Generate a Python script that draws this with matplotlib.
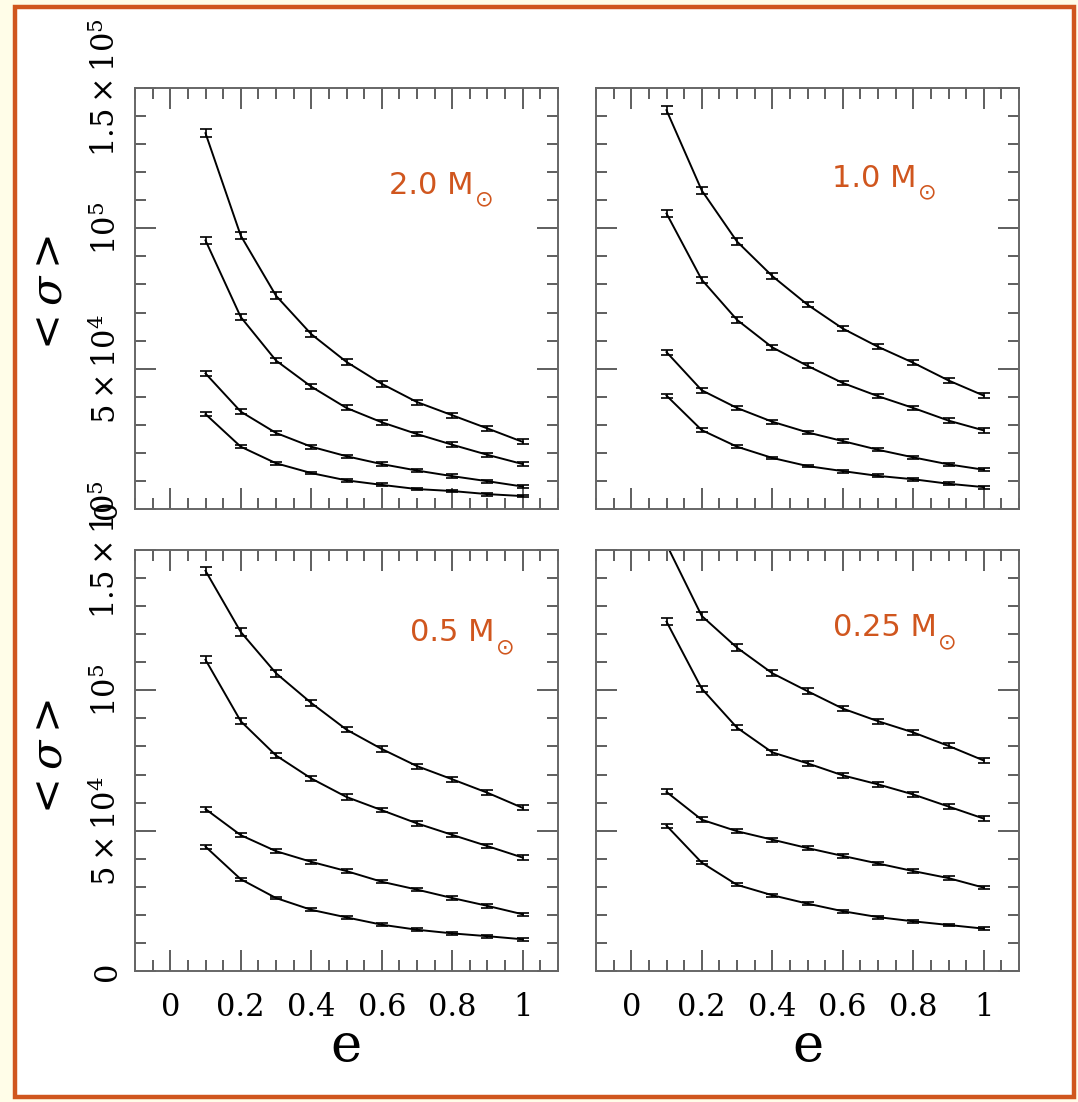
import matplotlib
matplotlib.use("Agg")
import matplotlib.pyplot as plt
from matplotlib.patches import Rectangle
from matplotlib.ticker import MultipleLocator, FixedLocator, FixedFormatter

plt.rcParams['mathtext.fontset'] = 'dejavuserif'

# eccentricity grid, same for every curve
e_vals = [0.1, 0.2, 0.3, 0.4, 0.5, 0.6, 0.7, 0.8, 0.9, 1.0]

# <sigma>, four curves per panel (top curve first)
sig_2p0 = [
    [133900, 97400, 76000, 62300, 52400, 44600, 38100, 33400, 28700, 23900],
    [95700, 68400, 52900, 43600, 36000, 30900, 26700, 22900, 19300, 16000],
    [48300, 34700, 27100, 22200, 18800, 16000, 13700, 11700, 9900, 8000],
    [33800, 22200, 16300, 12800, 10200, 8600, 7100, 6400, 5300, 4600],
]
sig_1p0 = [
    [142100, 113500, 95300, 83000, 72800, 64300, 57800, 52100, 45800, 40400],
    [105300, 81700, 67400, 57600, 51000, 44900, 40200, 36000, 31500, 28000],
    [55900, 42300, 36000, 31100, 27300, 24200, 21100, 18400, 15900, 14000],
    [40400, 28100, 22200, 18200, 15300, 13500, 11800, 10600, 9000, 7800],
]
sig_0p5 = [
    [142600, 120800, 106100, 95500, 86000, 79100, 73000, 68300, 63500, 58100],
    [110900, 89000, 76800, 68600, 62000, 57300, 52600, 48500, 44500, 40400],
    [57700, 48400, 42700, 38900, 35600, 31800, 29000, 26000, 23200, 20200],
    [44300, 32700, 26000, 21800, 19100, 16500, 14700, 13400, 12400, 11300],
]
sig_0p25 = [
    [152000, 126500, 115200, 106100, 99700, 93500, 89000, 85000, 80200, 75000],
    [124500, 100600, 86700, 77900, 74000, 69700, 66500, 62900, 58600, 54300],
    [63800, 53900, 49800, 46800, 43800, 41000, 38300, 35600, 33100, 29700],
    [51800, 38600, 30700, 27000, 24000, 21300, 19200, 17700, 16400, 15100],
]

# error bar half-widths, one list per curve (same for all panels)
err_curves = [
    [1500, 1300, 1200, 1100, 1000, 1000, 900, 900, 900, 900],
    [1300, 1100, 1000, 900, 900, 800, 800, 800, 800, 800],
    [900, 800, 700, 700, 600, 600, 600, 600, 600, 600],
    [700, 600, 500, 500, 500, 500, 500, 500, 500, 500],
]

panel_data = [sig_2p0, sig_1p0, sig_0p5, sig_0p25]
panel_labels = ["2.0 M", "1.0 M", "0.5 M", "0.25 M"]
label_pos = [(0.74, 115400), (0.69, 117900), (0.80, 120500), (0.72, 122300)]

xtick_vals = [0, 0.2, 0.4, 0.6, 0.8, 1]
xtick_text = ["0", "0.2", "0.4", "0.6", "0.8", "1"]
ytick_vals = [0, 50000, 100000, 150000]
ytick_text = ["0", r"$5\times10^{4}$", r"$10^{5}$", r"$1.5\times10^{5}$"]

orange = "#D0561E"
W, H = 1078, 1102
fig = plt.figure(figsize=(W / 100, H / 100), dpi=100)
fig.patch.set_facecolor("#FFFDE8")

# white card with orange frame, kept under the axes
frame = Rectangle((15 / W, 1 - 1097 / H), 1059 / W, 1090 / H, transform=fig.transFigure,
                  facecolor="white", edgecolor=orange, linewidth=3.2, zorder=-10)
fig.patches.append(frame)

aw, ah = 423 / W, 421 / H
positions = [
    (135 / W, 1 - 509 / H),
    (596 / W, 1 - 509 / H),
    (135 / W, 1 - 971 / H),
    (596 / W, 1 - 971 / H),
]

for i, (pos, data) in enumerate(zip(positions, panel_data)):
    ax = fig.add_axes([pos[0], pos[1], aw, ah])
    ax.set_zorder(1)
    ax.set_facecolor("white")
    for curve, err in zip(data, err_curves):
        ax.errorbar(e_vals, curve, yerr=err, color="black", lw=1.4, elinewidth=1.2,
                    capsize=4.5, capthick=1.2)
    ax.set_xlim(-0.1, 1.1)
    ax.set_ylim(0, 150000)

    ax.xaxis.set_major_locator(FixedLocator(xtick_vals))
    ax.xaxis.set_minor_locator(MultipleLocator(0.05))
    ax.yaxis.set_major_locator(FixedLocator(ytick_vals))
    ax.yaxis.set_minor_locator(MultipleLocator(10000))
    ax.tick_params(which="both", direction="in", top=True, right=True,
                   color="#333333", width=1.1)
    ax.tick_params(which="major", length=15)
    ax.tick_params(which="minor", length=8)
    for sp in ax.spines.values():
        sp.set_color("#666666")
        sp.set_linewidth(1.4)

    if i in (2, 3):
        ax.xaxis.set_major_formatter(FixedFormatter(xtick_text))
        ax.tick_params(axis="x", labelsize=22, pad=15)
        for lab in ax.get_xticklabels():
            lab.set_family("DejaVu Serif")
    else:
        ax.set_xticklabels([])

    if i in (0, 2):
        ax.yaxis.set_major_formatter(FixedFormatter(ytick_text))
        ax.tick_params(axis="y", labelsize=22, pad=9, labelrotation=90)
        for lab in ax.get_yticklabels():
            lab.set_family("DejaVu Serif")
            lab.set_va("center")
    else:
        ax.set_yticklabels([])

    # mass label: "x.x M" plus a sun symbol set low after it
    t = ax.text(label_pos[i][0], label_pos[i][1], panel_labels[i], color=orange,
                fontsize=22, ha="center", va="center", family="DejaVu Sans")
    ax.annotate("\u2299", xy=(1.0, 0.0), xycoords=t, xytext=(1, 0),
                textcoords="offset points", color=orange, fontsize=16,
                ha="left", va="center", family="DejaVu Sans")

# axis titles
for yc in (296, 760):
    fig.text(50 / W, 1 - yc / H, r"$<\sigma>$", rotation=90, fontsize=31,
             ha="center", va="center", zorder=2)
for xc in (346, 808):
    fig.text(xc / W, 1 - 1046 / H, "e", fontsize=38, ha="center", va="center",
             family="DejaVu Serif", zorder=2)

fig.savefig("out.png", dpi=100, facecolor=fig.get_facecolor())
